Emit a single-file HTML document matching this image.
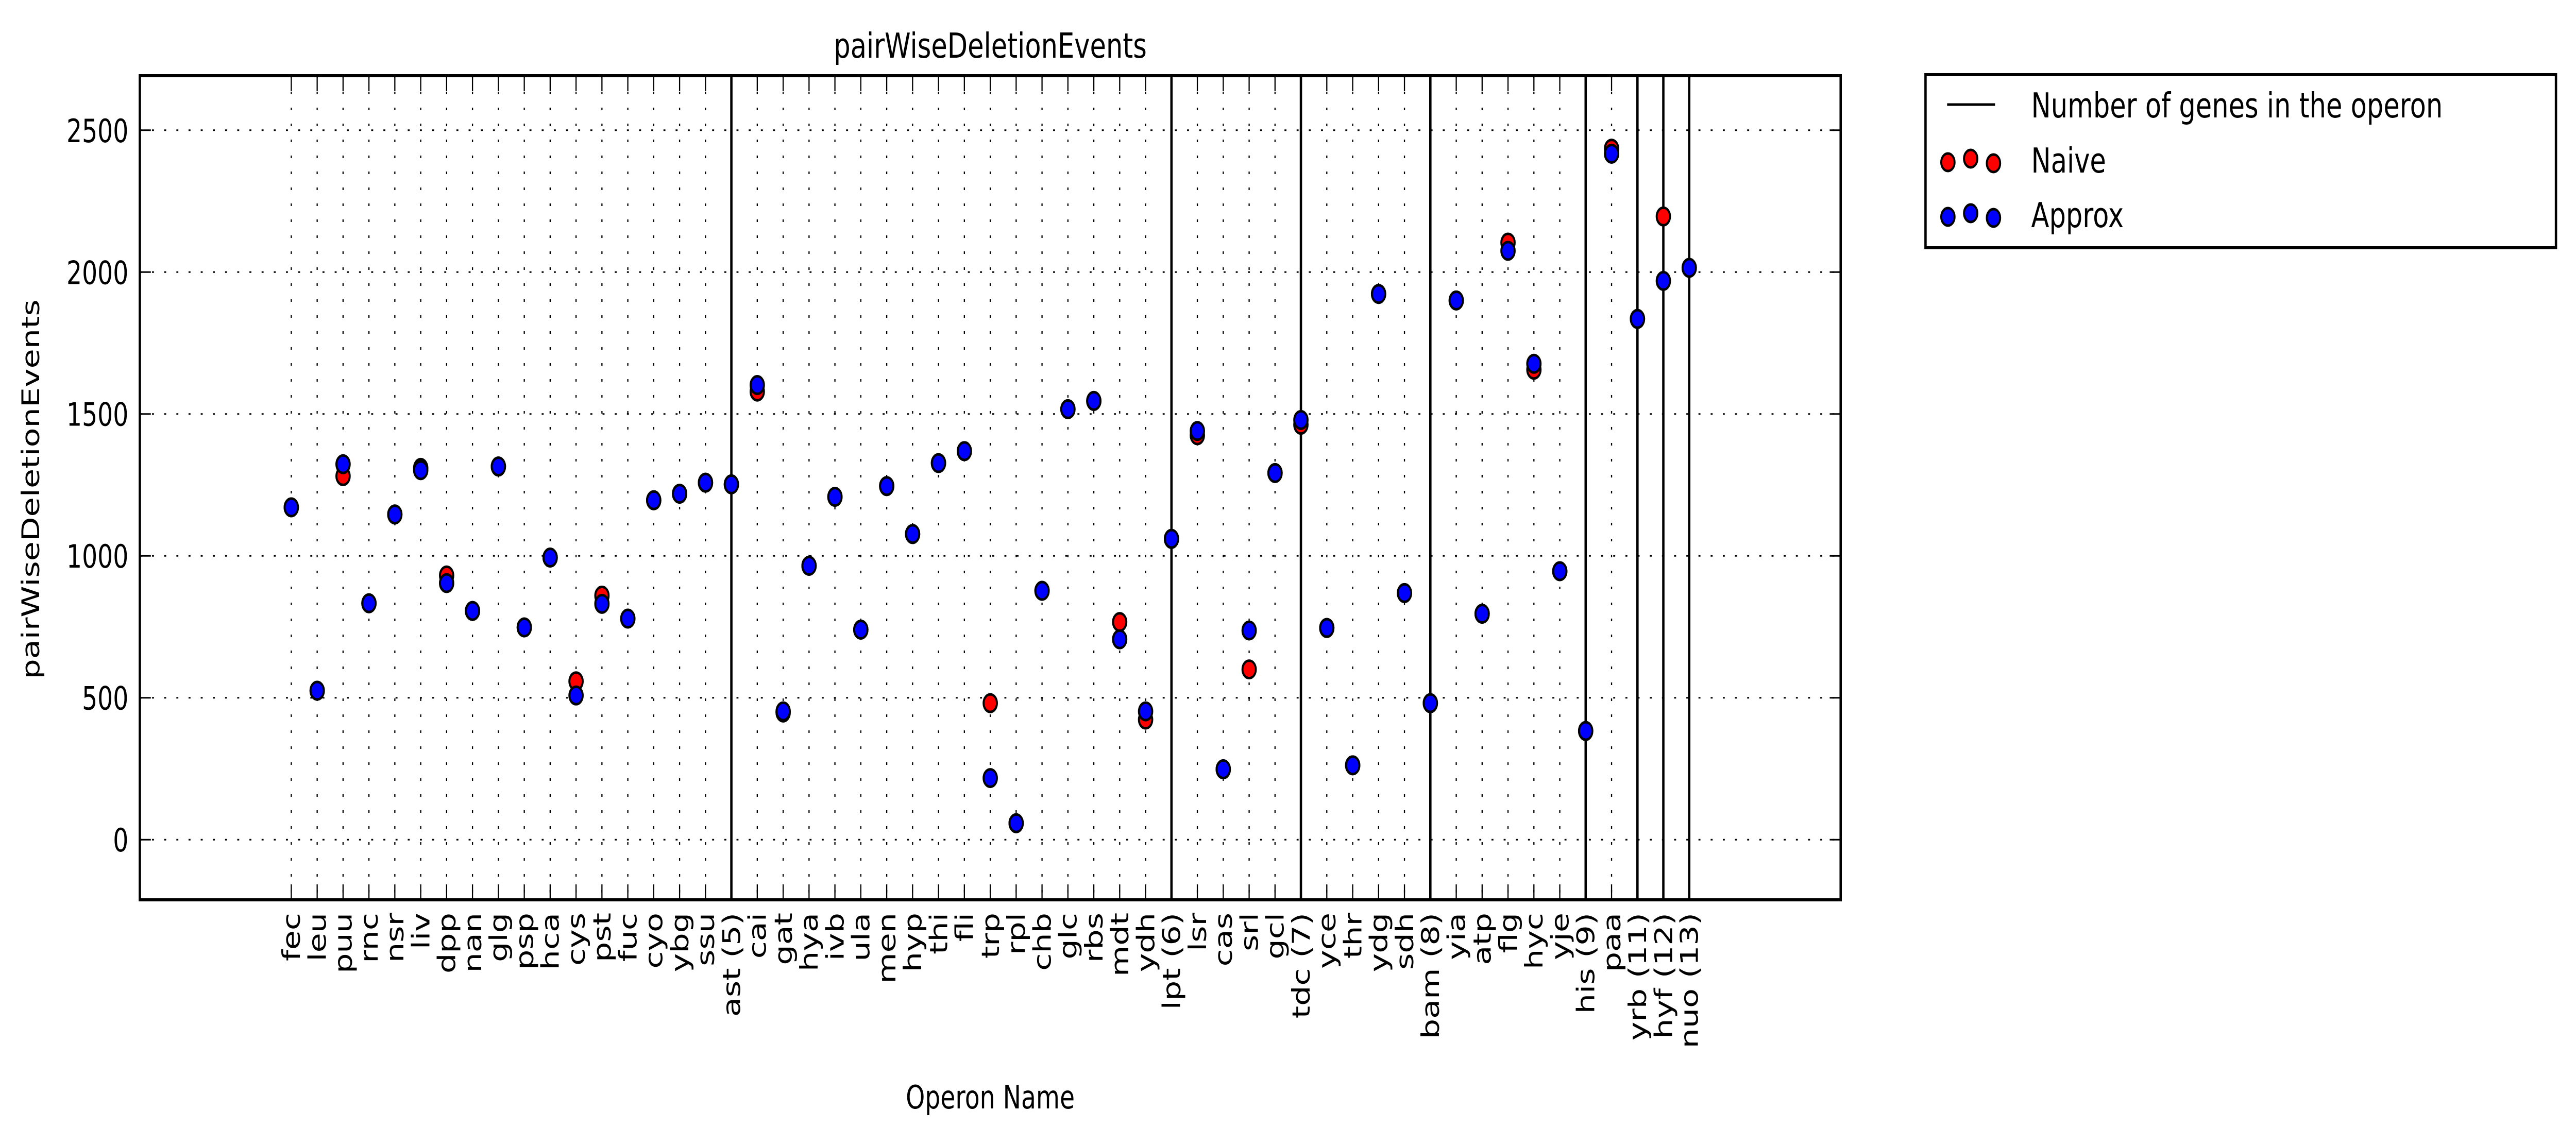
<!DOCTYPE html>
<html><head><meta charset="utf-8"><style>
html,body{margin:0;padding:0;background:#fff;overflow:hidden;width:100%;height:100%;}
svg{display:block;width:100vw;height:100vh;font-family:"DejaVu Sans","Liberation Sans",sans-serif;}
</style></head><body>
<svg id="chart" viewBox="0 0 6558 2223" preserveAspectRatio="none" xmlns="http://www.w3.org/2000/svg">
<rect width="6558" height="2223" fill="#fff"/>
<text x="2521" y="112" font-size="67" text-anchor="middle">pairWiseDeletionEvents</text>
<text transform="translate(100,950) rotate(-90)" font-size="62" text-anchor="middle">pairWiseDeletionEvents</text>
<text x="2521" y="2152" font-size="62" text-anchor="middle">Operon Name</text>
<g id="plot"></g>
<g>
<rect x="4902" y="145" width="1605" height="336" fill="#fff" stroke="#000" stroke-width="6"/>
<line x1="4957" y1="203" x2="5079" y2="203" stroke="#000" stroke-width="5"/>
<text x="5171" y="228" font-size="67">Number of genes in the operon</text>
<circle cx="4959" cy="315" r="17" fill="#f00" stroke="#000" stroke-width="5"/>
<circle cx="5017" cy="308" r="17" fill="#f00" stroke="#000" stroke-width="5"/>
<circle cx="5075" cy="317" r="17" fill="#f00" stroke="#000" stroke-width="5"/>
<text x="5171" y="335" font-size="67">Naive</text>
<circle cx="4959" cy="421" r="17" fill="#00f" stroke="#000" stroke-width="5"/>
<circle cx="5017" cy="414" r="17" fill="#00f" stroke="#000" stroke-width="5"/>
<circle cx="5075" cy="423" r="17" fill="#00f" stroke="#000" stroke-width="5"/>
<text x="5171" y="441" font-size="67">Approx</text>
</g>
</svg>
<script>
const categories = ["fec","leu","puu","rnc","nsr","liv","dpp","nan","glg","psp","hca","cys","pst","fuc","cyo","ybg","ssu","ast (5)","cai","gat","hya","ivb","ula","men","hyp","thi","fli","trp","rpl","chb","glc","rbs","mdt","ydh","lpt (6)","lsr","cas","srl","gcl","tdc (7)","yce","thr","ydg","sdh","bam (8)","yia","atp","flg","hyc","yje","his (9)","paa","yrb (11)","hyf (12)","nuo (13)"];
const naiveValues = [1171,525,1281,833,1146,1310,931,806,1315,748,994,558,860,779,1196,1219,1258,1252,1579,448,965,1208,740,1246,1077,1327,1369,481,58,877,1517,1546,767,423,1060,1425,248,600,1292,1462,746,262,1923,869,481,1900,796,2104,1656,946,383,2435,1835,2196,2015];
const approxValues = [1171,525,1323,833,1146,1302,904,806,1315,748,994,508,831,779,1196,1219,1258,1252,1602,452,965,1208,740,1246,1077,1327,1369,217,58,877,1517,1546,706,452,1060,1440,248,737,1292,1479,746,262,1923,869,481,1900,796,2075,1677,946,383,2417,1835,1969,2015];
const operonBoundaries = ["ast (5)","lpt (6)","tdc (7)","bam (8)","his (9)","yrb (11)","hyf (12)","nuo (13)"];
const yTicks = [0,500,1000,1500,2000,2500];

const L=356,R=4686,T=147,B=1747;
const xMin=-5.85,xMax=categories.length-1+5.85,yMin=-212,yMax=2692;
const xs=i=>L+(i-xMin)/(xMax-xMin)*(R-L);
const ys=v=>B-(v-yMin)/(yMax-yMin)*(B-T);
const NS="http://www.w3.org/2000/svg";
const g=document.getElementById('plot');
function mk(tag,attrs,parent){const e=document.createElementNS(NS,tag);for(const k in attrs)e.setAttribute(k,attrs[k]);(parent||g).appendChild(e);return e;}

yTicks.forEach(v=>{
  const y=ys(v);
  const gl=mk('line',{x1:L,x2:R,y1:y,y2:y,stroke:'#000','stroke-width':3,'stroke-dasharray':'5 26'});
  
  
  mk('line',{x1:L,x2:L+28,y1:y,y2:y,stroke:'#000','stroke-width':3});
  mk('line',{x1:R-28,x2:R,y1:y,y2:y,stroke:'#000','stroke-width':3});
  const t=mk('text',{x:327,y:y+23,'font-size':62,'text-anchor':'end'});
  t.textContent=v;
  
  
});
categories.forEach((c,i)=>{
  const x=xs(i);
  const gl=mk('line',{x1:x,x2:x,y1:T,y2:B,stroke:'#000','stroke-width':3,'stroke-dasharray':'5 26'});
  
  
  mk('line',{x1:x,x2:x,y1:B-30,y2:B,stroke:'#000','stroke-width':3});
  mk('line',{x1:x,x2:x,y1:T,y2:T+30,stroke:'#000','stroke-width':3});
  const t=mk('text',{transform:`translate(${x+22},1772) rotate(-90)`,'font-size':62,'text-anchor':'end'});
  t.textContent=c;
  
  
});
operonBoundaries.forEach(c=>{
  const x=xs(categories.indexOf(c));
  const l=mk('line',{x1:x,x2:x,y1:T,y2:B,stroke:'#000','stroke-width':6});
  
  
});
naiveValues.forEach((v,i)=>{
  const p=mk('circle',{cx:xs(i),cy:ys(v),r:17,fill:'#f00',stroke:'#000','stroke-width':5});
  
  
});
approxValues.forEach((v,i)=>{
  const p=mk('circle',{cx:xs(i),cy:ys(v),r:17,fill:'#00f',stroke:'#000','stroke-width':5});
  
  
});
const fr=mk('rect',{x:L,y:T,width:R-L,height:B-T,fill:'none',stroke:'#000','stroke-width':6});


</script>
</body></html>
